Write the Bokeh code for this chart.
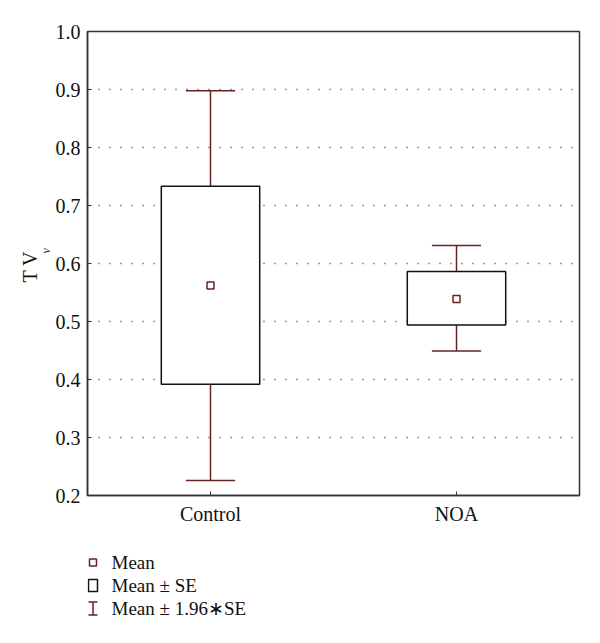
from bokeh.plotting import figure
from bokeh.models import Range1d, FixedTicker, Title, ColumnDataSource, PrintfTickFormatter
from bokeh.layouts import column
from bokeh.embed import file_html
from bokeh.resources import INLINE
from bokeh.core.properties import value

# ---- data ----
groups = ["Control", "NOA"]
means = [0.562, 0.539]
se_low = [0.392, 0.494]
se_high = [0.733, 0.586]
ci_low = [0.226, 0.449]
ci_high = [0.898, 0.631]
y_ticks = [0.2, 0.3, 0.4, 0.5, 0.6, 0.7, 0.8, 0.9, 1.0]
legend_labels = ["Mean", "Mean \u00b1 SE", "Mean \u00b1 1.96\u2217SE"]

FONT = "Liberation Serif"
DARKRED = "#632424"
FRAME = "#333333"

xs = list(range(len(groups)))
box_half = 0.2
cap_half = 0.1

src = ColumnDataSource(dict(
    x=xs,
    left=[x - box_half for x in xs],
    right=[x + box_half for x in xs],
    cap_l=[x - cap_half for x in xs],
    cap_r=[x + cap_half for x in xs],
    mean=means, se_low=se_low, se_high=se_high,
    ci_low=ci_low, ci_high=ci_high,
))

p = figure(width=592, height=535, output_backend="svg", toolbar_location=None,
           x_range=Range1d(-0.5, 1.5), y_range=Range1d(0.2, 1.0),
           min_border_left=87, min_border_right=13, min_border_top=31,
           min_border_bottom=40)
p.background_fill_color = "white"
p.border_fill_color = "white"
p.outline_line_color = FRAME
p.outline_line_width = 1.5

# grid
p.xgrid.visible = False
p.ygrid.ticker = FixedTicker(ticks=y_ticks)
p.ygrid.grid_line_color = "#333333"
p.ygrid.grid_line_dash = "1 10"
p.ygrid.grid_line_width = 1.3

# axes
p.yaxis.ticker = FixedTicker(ticks=y_ticks)
p.yaxis.formatter = PrintfTickFormatter(format="%.1f")
p.xaxis.ticker = FixedTicker(ticks=xs)
p.xaxis.major_label_overrides = {i: g for i, g in enumerate(groups)}
for ax in (p.xaxis[0], p.yaxis[0]):
    ax.axis_line_color = FRAME
    ax.axis_line_width = 1.5
    ax.major_tick_in = 4
    ax.major_tick_out = 0
    ax.major_tick_line_color = FRAME
    ax.minor_tick_line_color = None
    ax.major_label_text_font = FONT
    ax.major_label_text_font_size = "20px"
    ax.major_label_text_color = "#111111"
p.yaxis.major_label_standoff = 7
p.xaxis.major_label_standoff = 7

# y axis label "T V" with subscript nu (two title panels on the left)
p.add_layout(Title(text="\u03bd", align="left", offset=242, standoff=-4,
                   vertical_align="top",
                   text_font=FONT, text_font_size="12px", text_font_style="italic",
                   text_line_height=0.6, text_color="#111111"), "left")
p.add_layout(Title(text="T V", align="left", offset=213, standoff=0,
                   text_font=FONT, text_font_size="20px", text_font_style="normal",
                   text_color="#111111"), "left")

# whiskers
for y0, y1 in (("se_high", "ci_high"), ("se_low", "ci_low")):
    p.segment(x0="x", y0=y0, x1="x", y1=y1, source=src,
              line_color=DARKRED, line_width=1.5)
for yy in ("ci_high", "ci_low"):
    p.segment(x0="cap_l", y0=yy, x1="cap_r", y1=yy, source=src,
              line_color=DARKRED, line_width=1.5)
# boxes
p.quad(left="left", right="right", bottom="se_low", top="se_high", source=src,
       fill_color="white", line_color="#111111", line_width=1.5)
# means
p.scatter(x="x", y="mean", source=src, marker="square", size=7,
          fill_color="white", line_color=DARKRED, line_width=1.5)

# ---- legend panel (frame is aligned with the plot frame: x in page px) ----
leg = figure(width=592, height=100, output_backend="svg", toolbar_location=None,
             x_range=Range1d(87, 579), y_range=Range1d(100, 0),
             x_axis_location=None, y_axis_location=None,
             min_border_left=87, min_border_right=13, min_border_top=0,
             min_border_bottom=0)
leg.outline_line_color = None
leg.xgrid.visible = False
leg.ygrid.visible = False

rows = [27, 50, 73]
kx = 92.5
tx = 111
leg.scatter(x=[kx], y=[rows[0]], marker="square", size=7, fill_color="white",
            line_color=DARKRED, line_width=1.5)
leg.rect(x=[kx], y=[rows[1]], width=9, height=12, fill_color="white",
         line_color="#111111", line_width=1.5)
leg.segment(x0=[kx, kx - 4.5, kx - 4.5], y0=[rows[2] - 6.5, rows[2] - 6.5, rows[2] + 6.5],
            x1=[kx, kx + 4.5, kx + 4.5], y1=[rows[2] + 6.5, rows[2] - 6.5, rows[2] + 6.5],
            line_color=DARKRED, line_width=1.5)
leg.text(x=[tx] * 3, y=rows, text=legend_labels, text_font=value(FONT),
         text_font_size="19px", text_baseline="middle", text_align="left",
         text_color="#111111")

layout = column(p, leg, spacing=0)
open("out.html", "w").write(file_html(layout, INLINE))
